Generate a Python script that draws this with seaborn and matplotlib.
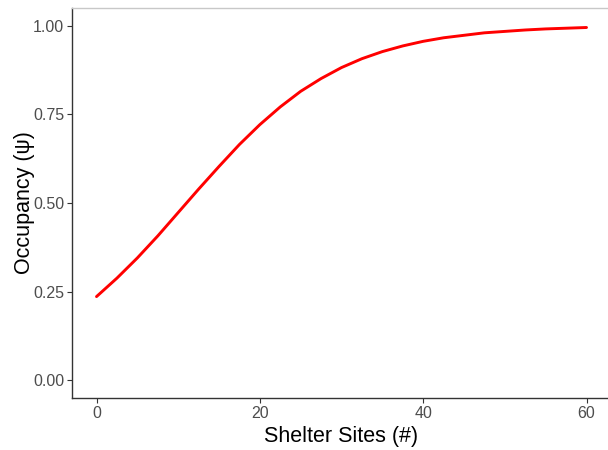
import matplotlib
matplotlib.use("Agg")
import matplotlib.pyplot as plt
import pandas as pd
import seaborn as sns

# Values
shelter_sites = [0, 2.5, 5, 7.5, 10, 12.5, 15, 17.5, 20, 22.5, 25, 27.5, 30,
                 32.5, 35, 37.5, 40, 42.5, 45, 47.5, 50, 52.5, 55, 57.5, 60]
occupancy = [0.236, 0.288, 0.345, 0.407, 0.473, 0.539, 0.603, 0.665, 0.721,
             0.771, 0.815, 0.851, 0.882, 0.907, 0.927, 0.943, 0.956, 0.966,
             0.973, 0.980, 0.984, 0.988, 0.991, 0.993, 0.995]
x_ticks = [0, 20, 40, 60]
y_ticks = [0.00, 0.25, 0.50, 0.75, 1.00]
y_tick_labels = ["0.00", "0.25", "0.50", "0.75", "1.00"]

df = pd.DataFrame({"sites": shelter_sites, "psi": occupancy})

sns.set_style("white")
plt.rcParams["font.family"] = ["Liberation Sans", "DejaVu Sans"]

fig = plt.figure(figsize=(6.08, 4.5), dpi=100)
ax = fig.add_axes([72 / 608, 52 / 450, 539 / 608, 390 / 450])

sns.lineplot(data=df, x="sites", y="psi", color="#ff0000", linewidth=2.1, ax=ax)

ax.set_xlim(-3, 63)
ax.set_ylim(-0.05, 1.05)
ax.set_xticks(x_ticks)
ax.set_yticks(y_ticks)
ax.set_yticklabels(y_tick_labels)

ax.set_xlabel("Shelter Sites (#)", fontsize=15.5, color="black", labelpad=4)
ax.set_ylabel("Occupancy (ψ)", fontsize=15.5, color="black", labelpad=-1)

ax.tick_params(axis="both", direction="out", length=3.5, width=0.8,
               color="#333333", labelcolor="#4d4d4d", labelsize=11.5, pad=2,
               bottom=True, left=True)

for side in ["left", "bottom"]:
    ax.spines[side].set_color("#333333")
    ax.spines[side].set_linewidth(1.0)
ax.spines["top"].set_color("#c8c8c8")
ax.spines["top"].set_linewidth(1.0)
ax.spines["right"].set_visible(False)

fig.savefig("out.png", dpi=100)
